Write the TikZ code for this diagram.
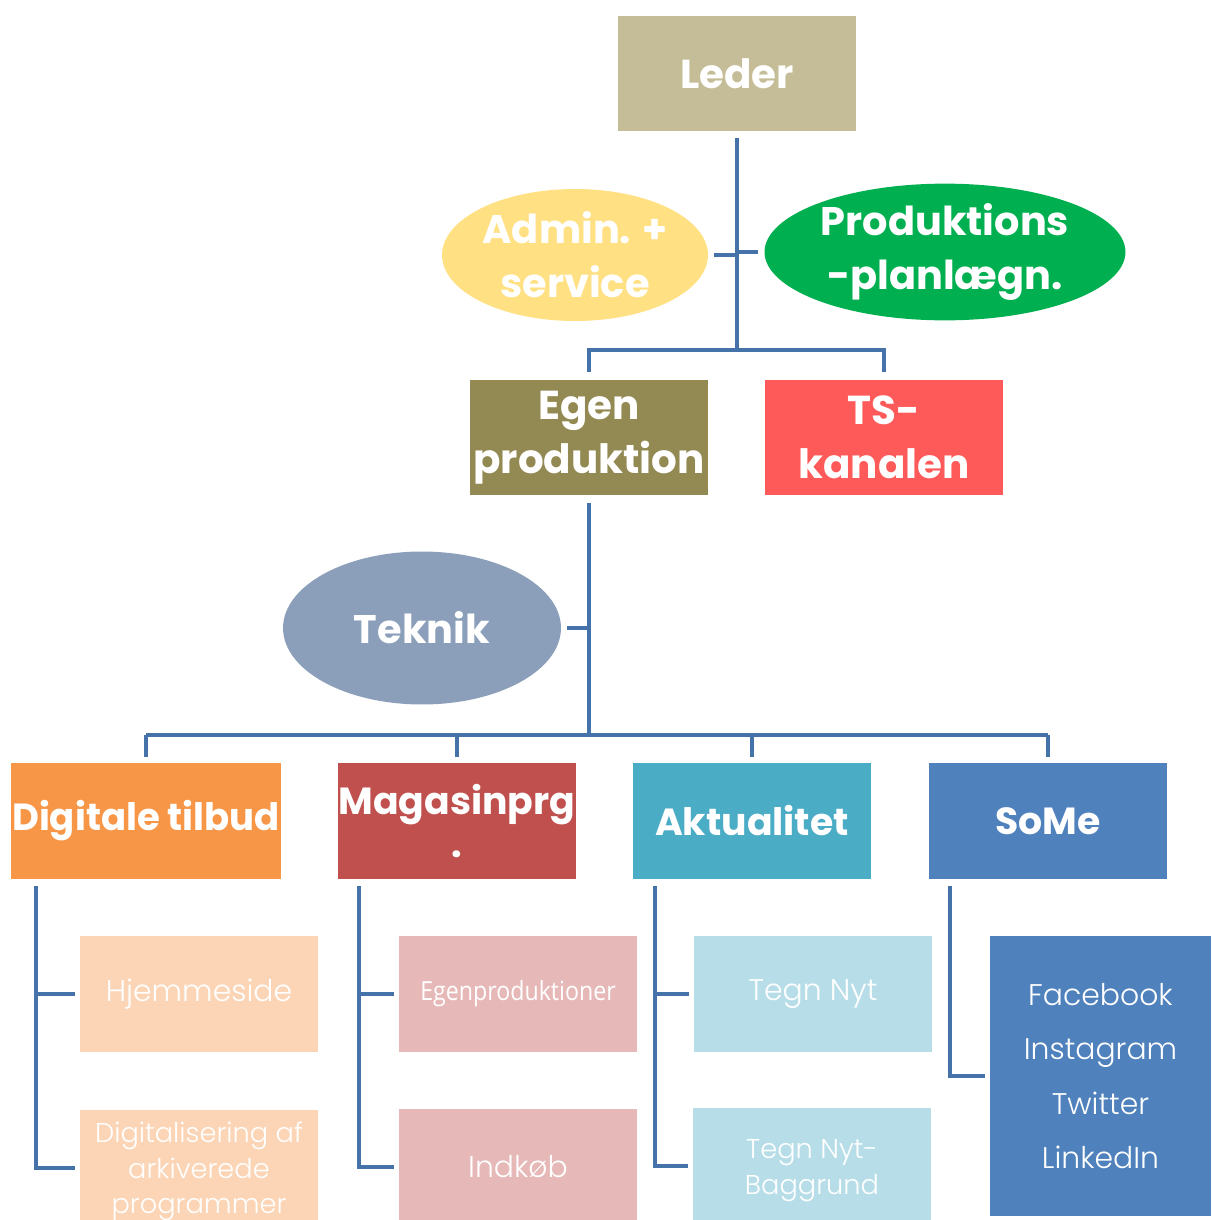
\documentclass[tikz,border=0pt]{standalone}
\usepackage{fontspec}
\setmainfont{Poppins}
\newfontfamily\lightfont{Poppins Light}
\newfontfamily\opensans{Open Sans}
\usetikzlibrary{shapes.geometric}
\definecolor{lederC}{HTML}{C4BD97}
\definecolor{adminC}{HTML}{FFE083}
\definecolor{prodC}{HTML}{00B050}
\definecolor{egenC}{HTML}{938953}
\definecolor{tsC}{HTML}{FF5A5A}
\definecolor{teknikC}{HTML}{8B9FBA}
\definecolor{digiC}{HTML}{F79646}
\definecolor{magC}{HTML}{C0504D}
\definecolor{aktC}{HTML}{4BACC6}
\definecolor{someC}{HTML}{4F81BD}
\definecolor{digiL}{HTML}{FBD5B5}
\definecolor{magL}{HTML}{E6B9B8}
\definecolor{aktL}{HTML}{B7DEE8}
\definecolor{lineC}{HTML}{4672AA}
\tikzset{
  box/.style={rectangle, inner sep=0pt, minimum width=4.76cm, minimum height=2.32cm, text=white, align=center},
  head/.style={box, font=\bfseries\fontsize{23}{30.6}\selectfont},
  dept/.style={box, font=\bfseries\fontsize{21.5}{24}\selectfont},
  oval/.style={ellipse, inner sep=0pt, text=white, align=center, font=\bfseries\fontsize{22.7}{30.6}\selectfont},
  item/.style={box, font=\lightfont\fontsize{17}{20.2}\selectfont},
  conn/.style={draw=lineC, line width=2.8pt},
}
\begin{document}
\begin{tikzpicture}[x=0.02cm, y=-0.02cm]
\useasboundingbox (0,0) rectangle (1211,1220);
\clip (0,0) rectangle (1211,1220);
% top
\node[head, fill=lederC] (leder) at (737,73.5) {Leder};
\node[oval, fill=adminC, minimum width=5.32cm, minimum height=2.64cm] (admin) at (575,255) {Admin. +\\service};
\node[oval, fill=prodC, minimum width=7.22cm, minimum height=2.54cm] (prod) at (945,252) {Produktions\\-planlægn.};
\node[head, fill=egenC] (egen) at (589,437.5) {Egen\\produktion};
\node[head, fill=tsC] (ts) at (884,437.5) {TS-\\kanalen};
\node[oval, fill=teknikC, minimum width=5.56cm, minimum height=3.06cm] (teknik) at (422,628) {Teknik};
% afdelinger
\node[dept, fill=digiC, minimum width=5.4cm] (digi) at (146,821) {\scalebox{0.98}[1]{Digitale tilbud}};
\node[dept, fill=magC] (mag) at (457,821) {Magasinprg\\.};
\node[dept, fill=aktC] (akt) at (752,821) {Aktualitet};
\node[dept, fill=someC] (some) at (1048,821) {SoMe};
% underpunkter
\node[item, fill=digiL] (hjem) at (199,994) {Hjemmeside};
\node[item, fill=digiL, font=\lightfont\fontsize{15.5}{20.2}\selectfont] (digit) at (199,1168) {\rule{0pt}{16pt}Digitalisering af\\arkiverede\\programmer};
\node[item, fill=magL, font=\opensans\fontsize{15}{18}\selectfont] (egenp) at (518,994) {\scalebox{0.88}[1]{Egenproduktioner}};
\node[item, fill=magL] (indkob) at (518,1167) {Indkøb};
\node[item, fill=aktL] (tegn) at (813,994) {Tegn Nyt};
\node[item, fill=aktL, font=\lightfont\fontsize{15.5}{20.2}\selectfont] (tegnb) at (812,1166) {\rule{0pt}{16pt}Tegn Nyt-\\Baggrund};
\node[item, fill=someC, minimum width=4.42cm, minimum height=5.6cm, font=\lightfont\fontsize{17}{31}\selectfont] (liste) at (1100.5,1076) {Facebook\\Instagram\\Twitter\\LinkedIn};
% forbindelser
\coordinate (b1) at (737,350);
\coordinate (b2) at (589,735);
\draw[conn, shorten <=3.4pt] (leder.south) -- (b1);
\draw[conn, shorten <=3.4pt] (admin.east) -- (admin.east -| b1);
\draw[conn, shorten <=3.4pt] (prod.west) -- (prod.west -| b1);
\draw[conn, shorten <=4pt, shorten >=4pt] (egen.north) -- (egen.north |- b1) -- (ts.north |- b1) -- (ts.north);
\draw[conn, shorten <=4pt] (egen.south) -- (b2);
\draw[conn, shorten <=3.4pt] (teknik.east) -- (teknik.east -| b2);
\draw[conn] (digi.north |- b2) -- (some.north |- b2);
\foreach \n in {digi,mag,akt,some}
  \draw[conn, shorten >=3.4pt] (\n.north |- b2) -- (\n.north);
\coordinate (digiV) at (36,879);
\coordinate (magV) at (359,879);
\coordinate (aktV) at (655,879);
\coordinate (someV) at (950,879);
\draw[conn, shorten <=4pt, shorten >=2.8pt] (digiV) -- (digiV |- digit.west) -- (digit.west);
\draw[conn, shorten >=2.8pt] (digiV |- hjem.west) -- (hjem.west);
\draw[conn, shorten <=4pt, shorten >=2.8pt] (magV) -- (magV |- indkob.west) -- (indkob.west);
\draw[conn, shorten >=2.8pt] (magV |- egenp.west) -- (egenp.west);
\draw[conn, shorten <=4pt, shorten >=2.8pt] (aktV) -- (aktV |- tegnb.west) -- (tegnb.west);
\draw[conn, shorten >=2.8pt] (aktV |- tegn.west) -- (tegn.west);
\draw[conn, shorten <=4pt, shorten >=2.8pt] (someV) -- (someV |- liste.west) -- (liste.west);
\end{tikzpicture}
\end{document}
